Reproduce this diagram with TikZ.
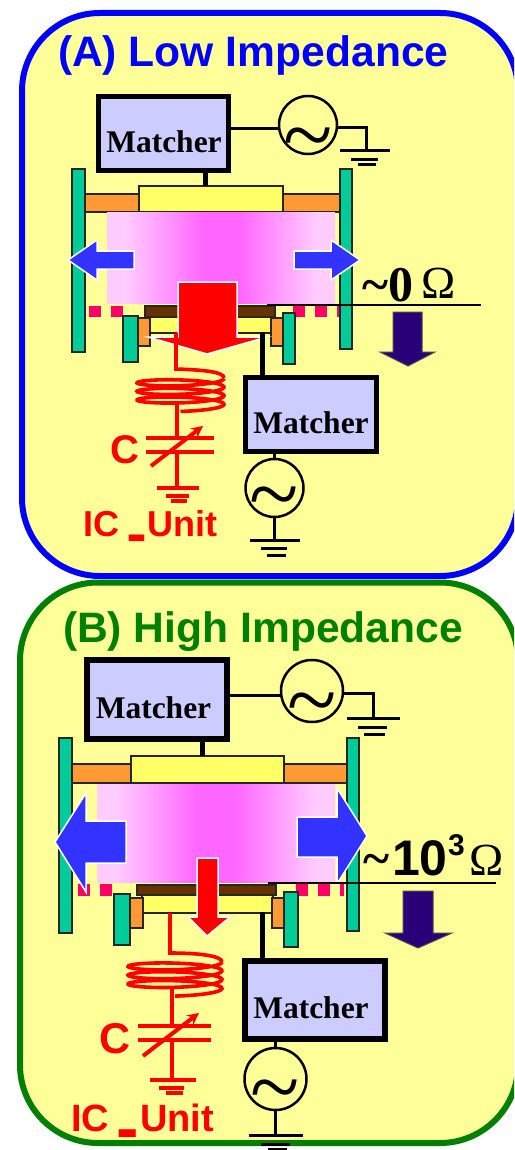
\documentclass[tikz,border=0pt]{standalone}
\usepackage{fontspec}
\setmainfont{Liberation Sans}
\newfontfamily\serifbold{Liberation Serif}[BoldFont={Liberation Serif Bold}]
\usetikzlibrary{arrows}

\definecolor{paneyellow}{HTML}{FFFF99}
\definecolor{matcherblue}{HTML}{CCCCFF}
\definecolor{wallgreen}{HTML}{00CC99}
\definecolor{ringorange}{HTML}{FF9933}
\definecolor{platyellow}{HTML}{FFFF66}
\definecolor{pinkgap}{HTML}{FF0066}
\definecolor{padbrown}{HTML}{663300}
\definecolor{flowblue}{HTML}{3333FF}
\definecolor{flownavy}{HTML}{290078}
\definecolor{plasmaedge}{HTML}{FFCCFF}
\definecolor{plasmacore}{HTML}{FF66FF}
\definecolor{caseB}{HTML}{008000}
\pgfdeclarehorizontalshading{plasma}{100bp}{color(0bp)=(plasmaedge); color(29bp)=(plasmaedge); color(46bp)=(plasmacore); color(54bp)=(plasmacore); color(71bp)=(plasmaedge); color(100bp)=(plasmaedge)}

\begin{document}
\begin{tikzpicture}[
            x = 1pt,
            y = -1pt,
            > = stealth,
            every node/.style = {inner sep = 0pt, outer sep = 0pt}
        ]

        \tikzset{
            pane/.style = {fill = paneyellow, line width = 6pt, rounded corners = 78pt},
            matcher/.style = {draw = black, fill = matcherblue, rectangle},
            matchertext/.style = {font = \serifbold\bfseries\fontsize{31.5}{32}\selectfont, anchor = base},
            source/.style = {draw = black, circle, line width = 2.5pt, text height = 0pt, text depth = 0pt, font = \serifbold\fontsize{91}{91}\selectfont},
            wire/.style = {draw = black, line width = 3pt},
            bus/.style = {draw = black, line width = 5pt},
            wall/.style = {draw = black!85, fill = wallgreen, line width = 1.5pt},
            ring/.style = {draw = black!85, fill = ringorange, line width = 1.5pt},
            plate/.style = {draw = black!85, fill = platyellow, line width = 1.5pt, rectangle},
            pad/.style = {draw = black!85, fill = padbrown, line width = 1.5pt},
            gap/.style = {draw = pinkgap, line width = 11.5pt, dash pattern = on 12pt off 10pt},
            flow/.style = {draw = white, fill = flowblue, line width = 1.5pt},
            ionflow/.style = {draw = white, fill = red, line width = 1.5pt},
            netflow/.style = {draw = black!70, fill = flownavy, line width = 1pt},
            redwire/.style = {draw = red, line width = 3.6pt},
            redgnd/.style = {draw = red, line width = 3.5pt},
            tune/.style = {draw = red, line width = 4pt, ->},
            ohm/.style = {draw = black, line width = 1.8pt},
            heading/.style = {font = \bfseries\fontsize{42.6}{43}\selectfont, anchor = base west},
            unitlabel/.style = {text = red, anchor = base west}
        }

        \useasboundingbox (0,0) rectangle (514,1150);
        \clip (0,0) rectangle (514,1150);

        % case A
        \draw[pane, draw = blue] (22,13) rectangle (518,576);
        \node[heading, text = blue] (titleA) at (58,67) {(A) Low Impedance};

        \draw[wall] (72,169) rectangle (85,352);
        \draw[wall] (340,169) rectangle (352,349);
        \draw[ring] (85,194) rectangle (139,212);
        \draw[ring] (283,194) rectangle (340,212);
        \node[plate, minimum width = 144pt, minimum height = 26pt] (plateA) at (211,199) {};
        \shade[shading = plasma] (107,213) rectangle (335,303);

        \draw[gap] (89,311.5) -- (123,311.5);
        \draw[gap] (293,311.5) -- (339,311.5);
        \draw[pad] (145,306) rectangle (275,317);
        \node[plate, minimum width = 123pt, minimum height = 16pt] (chuckA) at (210.5,325) {};
        \draw[ring] (138,318) rectangle (150,346);
        \draw[ring] (271,318) rectangle (283,346);
        \draw[wall] (123,316) rectangle (138,362);
        \draw[wall] (283,313) rectangle (295,364);

        \draw[flow] (68,260) -- (97,240) -- (97,251) -- (134,251) -- (134,269) -- (97,269) -- (97,280) -- cycle;
        \draw[flow] (360,260) -- (331,240) -- (331,251) -- (294,251) -- (294,269) -- (331,269) -- (331,280) -- cycle;
        \draw[ionflow] (207,354) -- (148,337) -- (178,337) -- (178,282) -- (237,282) -- (237,337) -- (267,337) -- cycle;
        \draw[netflow] (408,366) -- (380,352) -- (393,352) -- (393,312) -- (422,312) -- (422,352) -- (435,352) -- cycle;

        \node[matcher, line width = 5pt, minimum width = 130pt, minimum height = 74pt] (upmatcherA) at (163.5,133.5) {};
        \node[matchertext] (uptextA) at (164,153) {Matcher};
        \node[source, minimum size = 58pt] (upsrcA) at (308,125) {\raisebox{-41pt}{\textasciitilde}};
        \coordinate (upgndA) at (366,151);
        \draw[wire] (upsrcA.186) -- (upsrcA.186 -| upmatcherA.east);
        \draw[wire] (upsrcA.-4) -| (upgndA);
        \draw[wire] (340,151) -- (390,151);
        \draw[wire] (351,160) -- (378,160);
        \draw[wire] (358,165) -- (376,165);
        \draw[bus] ([xshift=-6pt]plateA.north) -- ([xshift=-6pt]plateA.north |- upmatcherA.south);

        \node[matcher, line width = 5pt, minimum width = 131pt, minimum height = 74pt] (lowmatcherA) at (311,414.5) {};
        \node[matchertext] (lowtextA) at (311,433) {Matcher};
        \coordinate (feedA) at (262,332);
        \draw[bus] (feedA) -- (feedA |- lowmatcherA.north);
        \node[source, minimum size = 58pt] (lowsrcA) at (274.5,488) {\raisebox{-36pt}{\textasciitilde}};
        \draw[wire] (lowmatcherA.south -| lowsrcA) -- (lowsrcA.north);
        \coordinate (lowgndA) at (274.5,540);
        \draw[wire] (lowsrcA.south) -- (lowgndA);
        \draw[wire] (250,540) -- (300,540);
        \draw[wire] (261,548) -- (287,548);
        \draw[wire] (267,555) -- (286,555);

        % blocking filter of case A
        \coordinate (tapA) at (176,333);
        \draw[redwire] (tapA) -- (176,369) .. controls (205,370) and (224,372) .. (224,378);
        \draw[redwire, smooth, samples = 120, variable = \t, domain = 0:-1170]
            plot ({180.5+43.5*cos(\t)}, {378.5-5*sin(\t)-8.6*\t/360});
        \coordinate (stemA) at (177,402);
        \coordinate (capA) at (177,438);
        \coordinate (capbA) at (177,452);
        \coordinate (capgndA) at (177,488);
        \draw[redwire] (stemA) -- (capA);
        \draw[redwire] (capbA) -- (capgndA);
        \draw[redgnd] (146,438) -- (214,438);
        \draw[redgnd] (146,452) -- (214,452);
        \draw[redwire] (157,488) -- (199,488);
        \draw[redwire] (166,496) -- (189,496);
        \draw[redwire] (171,501) -- (187,501);
        \coordinate (tunefromA) at (151,466);
        \coordinate (tunetoA) at (203,426);
        \draw[tune] (tunefromA) -- (tunetoA);
        \node[font = \bfseries\fontsize{40}{40}\selectfont, text = red] (capnameA) at (125,450) {C};
        \node[unitlabel, font = \bfseries\fontsize{36}{36}\selectfont] (unitA) at (83,536) {IC \smash{\raisebox{16pt}{\scalebox{.75}[4.8]{\_}}}\hspace{3pt}Unit};

        \draw[ohm] (267,305) -- (481,305);
        \node[font = \serifbold\bfseries\fontsize{50}{50}\selectfont, anchor = base west] (ohmA) at (362,301) {\textasciitilde 0};
        \node[font = \serifbold\fontsize{46}{46}\selectfont, anchor = base west] (omegaA) at (421,298) {Ω};

        % case B
        \draw[pane, draw = caseB] (20,582.5) rectangle (518,1143);
        \node[heading, text = caseB] (titleB) at (63,642) {(B) High Impedance};

        \draw[wall] (59,738) rectangle (72,933);
        \draw[wall] (347,738) rectangle (359,931);
        \draw[ring] (72,764) rectangle (131,783);
        \draw[ring] (284,764) rectangle (347,783);
        \node[plate, minimum width = 153pt, minimum height = 27pt] (plateB) at (207.5,769.5) {};
        \shade[shading = plasma] (97,784) rectangle (335,882);

        \draw[gap] (78,890) -- (113,890);
        \draw[gap] (296,890) -- (344,890);
        \draw[pad] (137,885) rectangle (276,895);
        \node[plate, minimum width = 131pt, minimum height = 18pt] (chuckB) at (207.5,904) {};
        \draw[ring] (130,898) rectangle (143,928);
        \draw[ring] (272,898) rectangle (284,928);
        \draw[wall] (114,894) rectangle (130,945);
        \draw[wall] (284,892) rectangle (298,947);

        \draw[flow] (55,842) -- (86,793) -- (86,821) -- (126,821) -- (126,863) -- (86,863) -- (86,892) -- cycle;
        \draw[flow] (367,836) -- (337,788) -- (337,817) -- (297,817) -- (297,857) -- (337,857) -- (337,884) -- cycle;
        \draw[ionflow] (207,936) -- (188,917) -- (197,917) -- (197,858) -- (218,858) -- (218,917) -- (230,917) -- cycle;
        \draw[netflow] (418,948) -- (385,933) -- (403,933) -- (403,891) -- (433,891) -- (433,933) -- (452,933) -- cycle;

        \node[matcher, line width = 6pt, minimum width = 140pt, minimum height = 79pt] (upmatcherB) at (157,699.5) {};
        \node[matchertext] (uptextB) at (153.5,718) {Matcher};
        \node[source, minimum size = 62pt] (upsrcB) at (312,691) {\raisebox{-39pt}{\textasciitilde}};
        \coordinate (upgndB) at (373,718);
        \draw[wire] (upsrcB.188) -- (upsrcB.188 -| upmatcherB.east);
        \draw[wire] (upsrcB.-4) -| (upgndB);
        \draw[wire] (347,718) -- (400,718);
        \draw[wire] (358,727) -- (387,727);
        \draw[wire] (364,734) -- (385,734);
        \draw[bus] ([xshift=-5.5pt]plateB.north) -- ([xshift=-5.5pt]plateB.north |- upmatcherB.south);

        \node[matcher, line width = 6pt, minimum width = 140pt, minimum height = 78pt] (lowmatcherB) at (315,1000) {};
        \node[matchertext] (lowtextB) at (311,1018) {Matcher};
        \coordinate (feedB) at (262,912);
        \draw[bus] (feedB) -- (feedB |- lowmatcherB.north);
        \node[source, minimum size = 62pt] (lowsrcB) at (275.5,1079) {\raisebox{-38pt}{\textasciitilde}};
        \draw[wire] (lowmatcherB.south -| lowsrcB) -- (lowsrcB.north);
        \coordinate (lowgndB) at (275.5,1135);
        \draw[wire] (lowsrcB.south) -- (lowgndB);
        \draw[wire] (249,1135) -- (303,1135);
        \draw[wire] (261,1144) -- (290,1144);
        \draw[wire] (268,1149) -- (287,1149);

        % blocking filter of case B
        \coordinate (tapB) at (170,913);
        \draw[redwire] (tapB) -- (170,953) .. controls (200,953) and (222,956) .. (222,962);
        \draw[redwire, smooth, samples = 120, variable = \t, domain = 0:-1170]
            plot ({175+47*cos(\t)}, {962-5.5*sin(\t)-8.8*\t/360});
        \coordinate (stemB) at (172,988);
        \coordinate (capB) at (172,1026);
        \coordinate (capbB) at (172,1040);
        \coordinate (capgndB) at (172,1080);
        \draw[redwire] (stemB) -- (capB);
        \draw[redwire] (capbB) -- (capgndB);
        \draw[redgnd] (138,1026) -- (211,1026);
        \draw[redgnd] (138,1040) -- (211,1040);
        \draw[redwire] (150,1080) -- (196,1080);
        \draw[redwire] (159,1088) -- (184,1088);
        \draw[redwire] (166,1093) -- (183,1093);
        \coordinate (tunefromB) at (143,1056);
        \coordinate (tunetoB) at (199,1013);
        \draw[tune] (tunefromB) -- (tunetoB);
        \node[font = \bfseries\fontsize{43}{43}\selectfont, text = red] (capnameB) at (115,1039) {C};
        \node[unitlabel, font = \bfseries\fontsize{38}{38}\selectfont] (unitB) at (71,1131) {IC \smash{\raisebox{19pt}{\scalebox{.78}[5.4]{\_}}}\hspace{4pt}Unit};

        \draw[ohm] (268,883) -- (496,883);
        \node[font = \serifbold\bfseries\fontsize{50}{50}\selectfont, anchor = base west] (tildeB) at (363,875) {\textasciitilde};
        \node[font = \bfseries\fontsize{50}{50}\selectfont, anchor = base west] (ohmB) at (392,875) {10};
        \node[font = \bfseries\fontsize{30}{30}\selectfont, anchor = base west] (powerB) at (448,855) {3};
        \node[font = \serifbold\fontsize{46}{46}\selectfont, anchor = base west] (omegaB) at (469,875) {Ω};

    \end{tikzpicture}
\end{document}
